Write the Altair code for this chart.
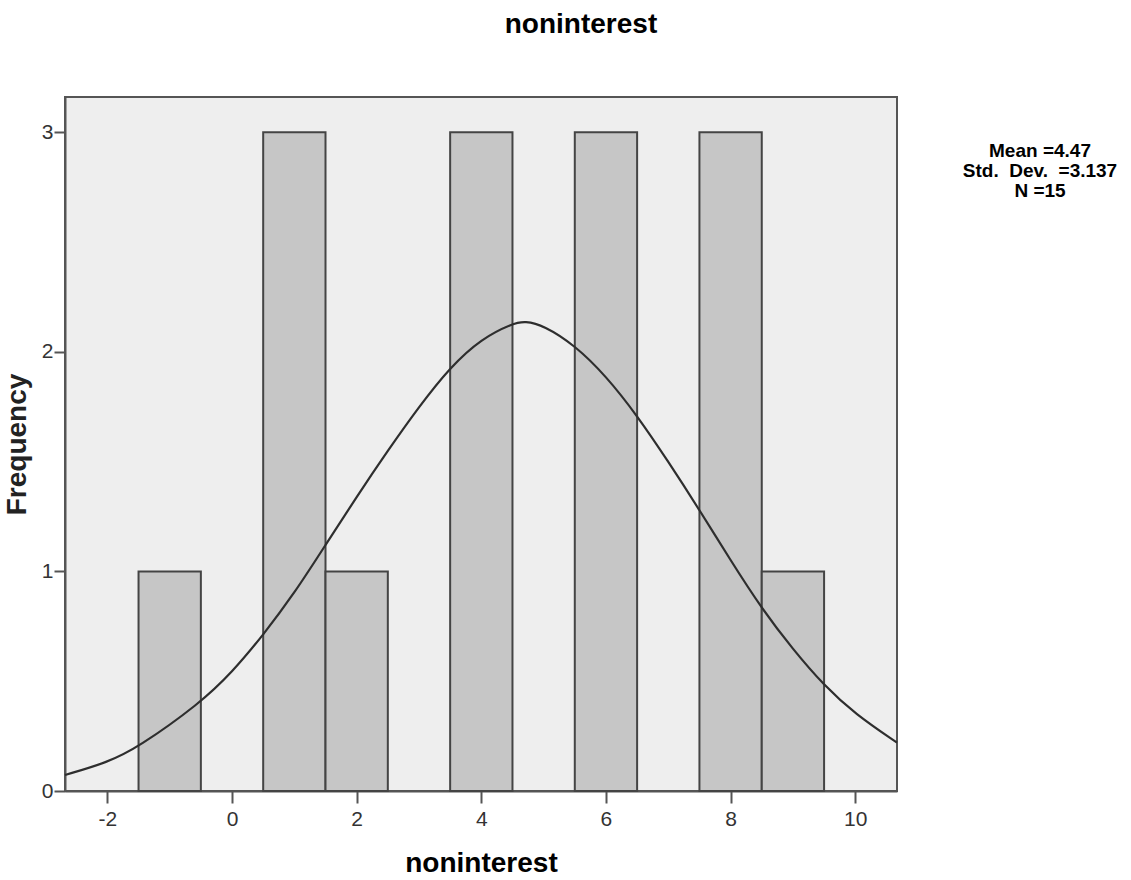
import altair as alt
import pandas as pd

# Histogram bins (centres, width 1) and frequencies
bin_centers = [-1, 1, 2, 4, 6, 8, 9]
bin_width = 1.0
counts = [1, 3, 1, 3, 3, 3, 1]

# Normal curve
curve_x = [-2.68, -2.0, -1.52, -0.51, 0.0, 0.5, 1.0, 1.5, 2.0, 2.5, 3.0, 3.5, 4.0, 4.51, 4.7, 5.0, 5.5,
           6.0, 6.5, 7.0, 7.5, 8.0, 8.5, 9.0, 9.5, 10.0, 10.67]
curve_y = [0.073, 0.13, 0.196, 0.40, 0.54, 0.71, 0.90, 1.12, 1.34, 1.55, 1.75, 1.93, 2.06, 2.13, 2.14, 2.12, 2.03,
           1.89, 1.71, 1.50, 1.28, 1.05, 0.83, 0.645, 0.48, 0.35, 0.22]

x_ticks = [-2, 0, 2, 4, 6, 8, 10]
y_ticks = [0, 1, 2, 3]
stats_labels = ["Mean =4.47", "Std.\u00a0\u00a0Dev.\u00a0\u00a0=3.137", "N =15"]

bars = pd.DataFrame({
    "start": [c - bin_width / 2 for c in bin_centers],
    "end": [c + bin_width / 2 for c in bin_centers],
    "count": counts,
})
curve = pd.DataFrame({"x": curve_x, "y": curve_y})
stats = pd.DataFrame({"label": ["\n".join(stats_labels)]})

FONT = "Liberation Sans"
xscale = alt.Scale(domain=[-2.68, 10.67], nice=False, zero=False)
yscale = alt.Scale(domain=[0, 3.16], nice=False, zero=False)

x_axis = alt.Axis(values=x_ticks, grid=False, title="noninterest", labelFontSize=21,
                  labelExpr="'' + datum.value",
                  labelColor="#333333", labelFont=FONT, labelPadding=5, tickSize=12,
                  tickWidth=2, tickColor="#555555", domainColor="#555555", domainWidth=2,
                  titleFont=FONT, titleFontSize=28, titleFontWeight="bold", titleColor="#000000",
                  titleX=416, titleY=80, titleBaseline="alphabetic", titleAnchor="middle",
                  labelFlush=False)
y_axis = alt.Axis(values=y_ticks, grid=False, title="Frequency", labelFontSize=21,
                  labelExpr="'' + datum.value",
                  labelColor="#333333", labelFont=FONT, labelPadding=1, tickSize=11,
                  tickWidth=2, tickColor="#555555", domainColor="#555555", domainWidth=2,
                  titleFont=FONT, titleFontSize=28, titleFontWeight="bold", titleColor="#222222",
                  titleX=-40, titleY=347, titleAngle=270, titleBaseline="alphabetic",
                  titleAnchor="middle")

bar_layer = alt.Chart(bars).mark_rect(fill="#c6c6c6", stroke="#444444", strokeWidth=2).encode(
    x=alt.X("start:Q", scale=xscale, axis=x_axis),
    x2="end:Q",
    y=alt.Y("count:Q", scale=yscale, axis=y_axis),
    y2=alt.datum(0),
)

line_layer = alt.Chart(curve).mark_line(color="#2e2e2e", strokeWidth=2.2, interpolate="basis").encode(
    x=alt.X("x:Q", scale=xscale),
    y=alt.Y("y:Q", scale=yscale),
)

text_layer = alt.Chart(stats).mark_text(
    font=FONT, fontSize=19, fontWeight="bold", color="#000000", align="center",
    baseline="alphabetic", lineBreak="\n", lineHeight=20,
).encode(
    x=alt.value(975), y=alt.value(60), text="label:N"
)

chart = alt.layer(bar_layer, line_layer, text_layer).properties(
    width=832,
    height=694,
    title=alt.TitleParams("noninterest", font=FONT, fontSize=28, fontWeight="bold",
                          color="#000000", anchor="middle", baseline="alphabetic",
                          offset=36, dx=100),
    padding={"left": 65, "top": 97, "right": 234, "bottom": 89},
    autosize=alt.AutoSizeParams(type="none"),
    background="#ffffff",
).configure_view(
    fill="#eeeeee", stroke="#555555", strokeWidth=2
)

chart.save("out.html", embed_options={"renderer": "svg", "actions": False})
